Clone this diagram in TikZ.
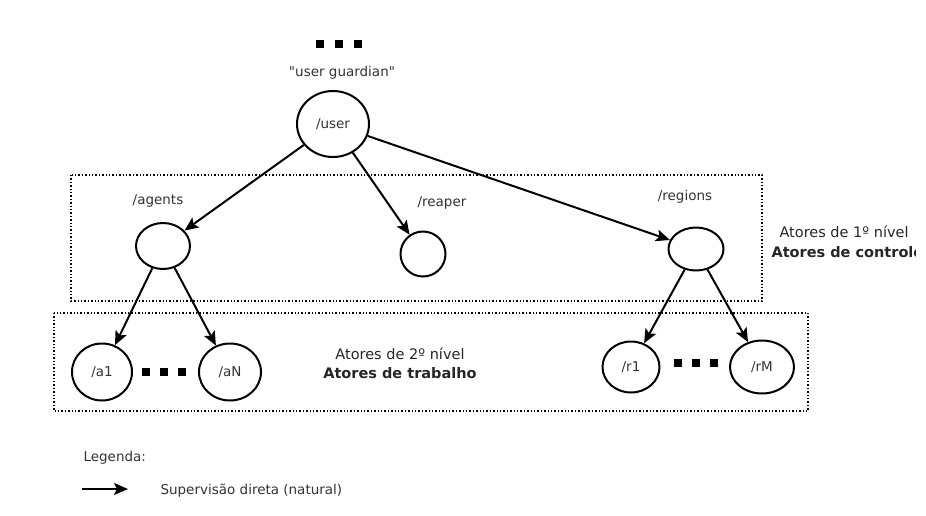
\documentclass[tikz,border=0pt]{standalone}
\usepackage{fontspec}
\setmainfont{DejaVu Sans}[Ligatures=TeXOff]
\usetikzlibrary{arrows.meta,shapes.geometric}
\begin{document}
\begin{tikzpicture}[x=1pt,y=-1pt,
  actor/.style={draw,line width=2pt,ellipse,inner sep=0pt},
  sup/.style={-{Stealth[length=14pt,width=12pt,inset=3pt]},line width=2pt},
  grp/.style={draw,line width=1.4pt,dotted},
  lbl/.style={font=\fontsize{13.5}{16}\selectfont,text=black!80},
  big/.style={font=\fontsize{14.5}{17}\selectfont,text=black!85,align=center},
  dot/.style={fill=black,minimum size=7.5pt,inner sep=0pt}]
\useasboundingbox (0,0) rectangle (926,515);
% groups
\draw[grp] (71,175) rectangle (762,301);
\draw[grp] (54,313) rectangle (808,411);
% top dots
\node[dot] (t1) at (320,44) {};
\node[dot] (t2) at (339,44) {};
\node[dot] (t3) at (358,44) {};
\node[lbl] (ug) at (342,73) {"user guardian"};
% nodes
\node[actor,minimum width=72pt,minimum height=66pt,lbl] (user) at (333,124) {/user};
\node[lbl] (agl) at (158,201) {/agents};
\node[actor,minimum width=54pt,minimum height=46pt] (agents) at (163,246) {};
\node[lbl] (rpl) at (442,203) {/reaper};
\node[actor,minimum width=45pt,minimum height=45pt] (reaper) at (423,254) {};
\node[lbl] (rgl) at (685,197) {/regions};
\node[actor,minimum width=55pt,minimum height=43pt] (regions) at (696,249) {};
\node[actor,minimum width=60pt,minimum height=57pt,lbl] (a1) at (102,372) {/a1};
\node[actor,minimum width=62pt,minimum height=57pt,lbl] (aN) at (230,372) {/aN};
\node[actor,minimum width=57pt,minimum height=51pt,lbl] (r1) at (631,367) {/r1};
\node[actor,minimum width=64pt,minimum height=53pt,lbl] (rM) at (762,367) {/rM};
\node[dot] (ad1) at (146,372) {};
\node[dot] (ad2) at (164,372) {};
\node[dot] (ad3) at (182,372) {};
\node[dot] (rd1) at (678,363) {};
\node[dot] (rd2) at (696,363) {};
\node[dot] (rd3) at (714,363) {};
% arrows
\draw[sup] (user) -- (agents);
\draw[sup] (user) -- (reaper);
\draw[sup] (user) -- (regions);
\draw[sup] (agents) -- (a1);
\draw[sup] (agents) -- (aN);
\draw[sup] (regions) -- (r1);
\draw[sup] (regions) -- (rM);
% group labels
\begin{scope}
\clip (765,215) rectangle (915,265);
\node[big,anchor=west] (g1a) at (776,232) {Atores de 1º nível};
\node[big,anchor=west] (g1b) at (768,252) {\bfseries Atores de controle};
\end{scope}
\node[big] (g2a) at (400,354) {Atores de 2º nível};
\node[big] (g2b) at (400,373) {\bfseries Atores de trabalho};
% legend
\node[lbl,anchor=west] (leg) at (80,458) {Legenda:};
\coordinate (la) at (82,489);
\coordinate (lb) at (128,489);
\draw[sup] (la) -- (lb);
\node[lbl,anchor=west] (legt) at (157,491) {Supervisão direta (natural)};
\end{tikzpicture}
\end{document}
